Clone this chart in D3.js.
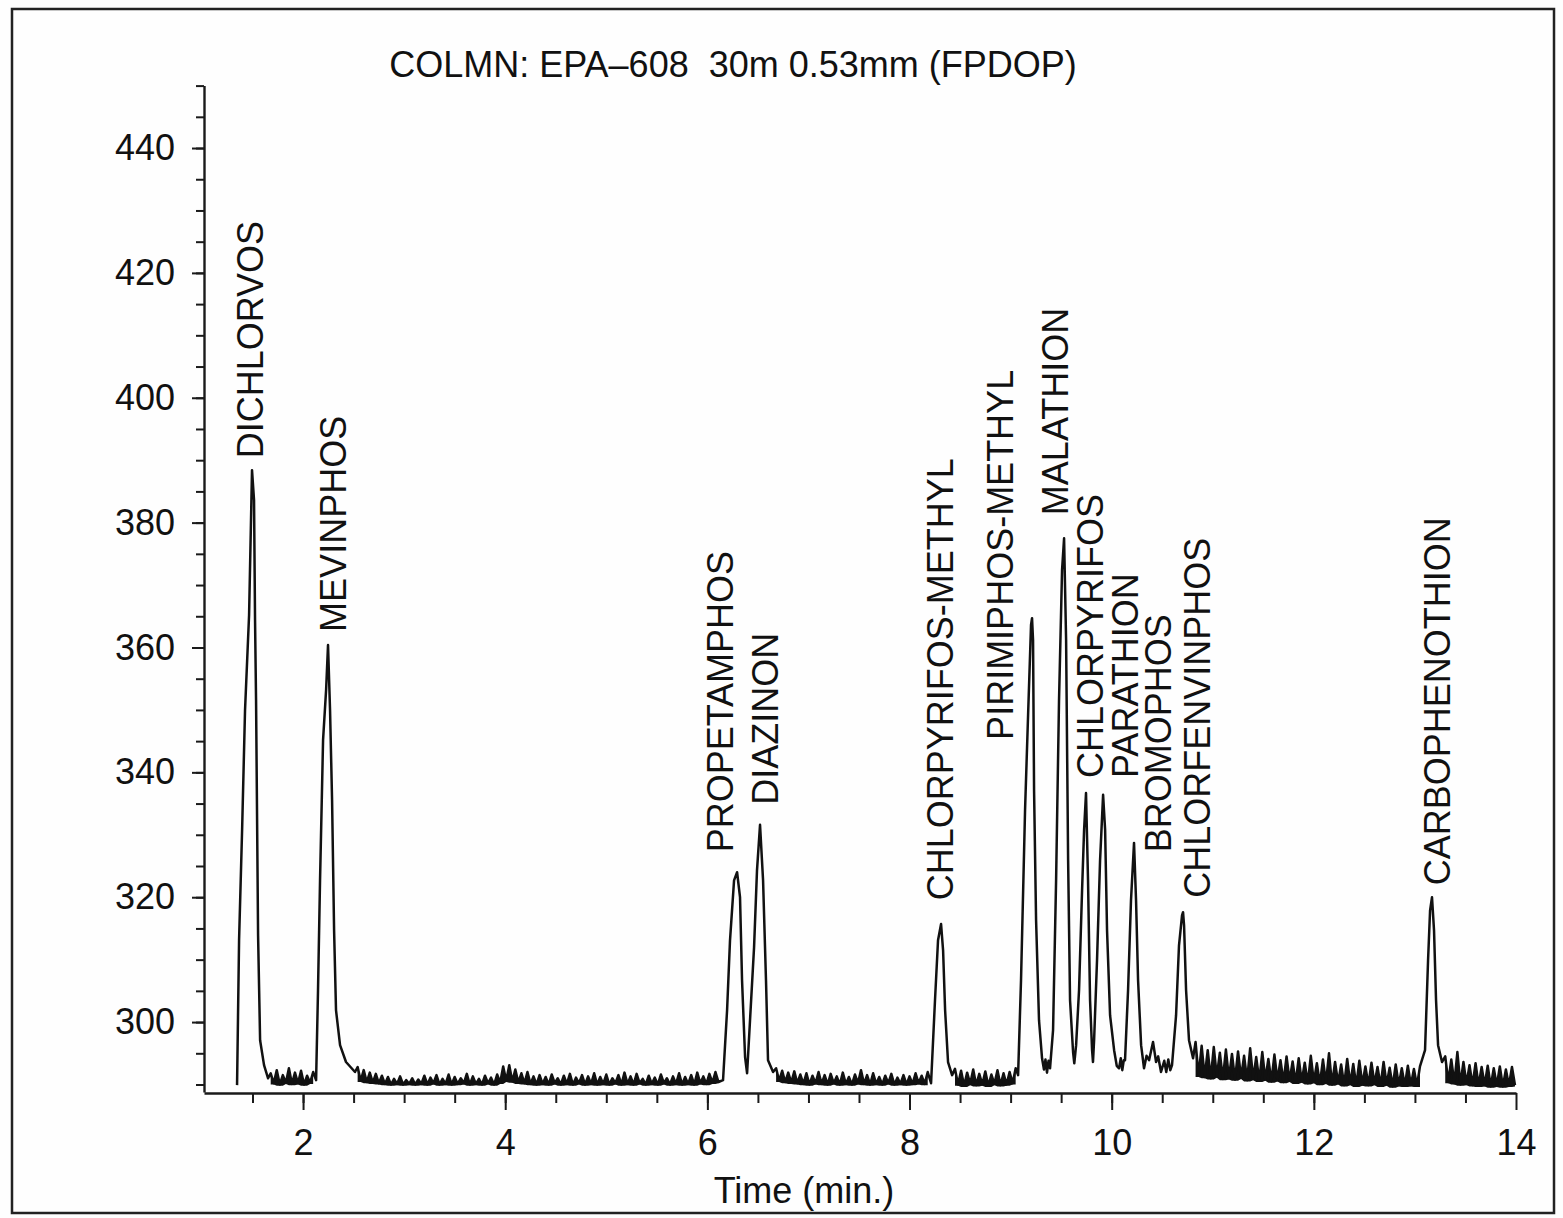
<!DOCTYPE html>
<html>
<head>
<meta charset="utf-8">
<script src="https://cdn.jsdelivr.net/npm/d3@7"></script>
<style>
  body { margin: 0; background: #fff; }
  svg { display: block; font-family: "Liberation Sans", Arial, Helvetica, sans-serif; }
</style>
</head>
<body>
<div id="chart"></div>
<script>
// ---- data ----
var titleText = "COLMN: EPA\u2013608  30m 0.53mm (FPDOP)";
var xTitle = "Time (min.)";

var xMajorTicks = [2, 4, 6, 8, 10, 12, 14];
var yMajorTicks = [300, 320, 340, 360, 380, 400, 420, 440];

// peak names and where their labels sit (time, signal at the foot of the text)
var compounds = ["DICHLORVOS", "MEVINPHOS", "PROPETAMPHOS", "DIAZINON", "CHLORPYRIFOS-METHYL",
  "PIRIMIPHOS-METHYL", "MALATHION", "CHLORPYRIFOS", "PARATHION", "BROMOPHOS",
  "CHLORFENVINPHOS", "CARBOPHENOTHION"];
var labelTime = [1.476, 2.297, 6.125, 6.571, 8.302, 8.896, 9.44, 9.786, 10.132, 10.459, 10.845, 13.219];
var labelLevel = [390.3, 362.5, 327.2, 334.8, 319.5, 345.2, 381.2, 339.1, 339.1, 327.2, 319.9, 321.9];

// peak outlines [time, signal]
var peakDichlorvos = [[1.347, 289.9], [1.367, 313.1], [1.397, 330.8], [1.426, 350.0], [1.466, 365.2],
  [1.495, 388.4], [1.515, 383.6], [1.525, 364.4], [1.535, 351.6], [1.555, 313.9], [1.575, 297.1],
  [1.614, 293.1], [1.654, 291.0]];
var peakMevinphos = [[2.129, 290.7], [2.148, 305.1], [2.168, 322.7], [2.198, 345.2], [2.228, 353.2],
  [2.247, 360.4], [2.267, 350.0], [2.287, 335.6], [2.307, 314.7], [2.326, 301.9], [2.366, 296.3],
  [2.425, 293.6], [2.514, 292.0]];
var peakPropDiaz = [[6.155, 290.7], [6.195, 301.9], [6.224, 313.1], [6.264, 322.7], [6.294, 324.0],
  [6.323, 320.0], [6.343, 306.7], [6.373, 294.4], [6.393, 291.8], [6.422, 300.3], [6.462, 312.0],
  [6.491, 324.3], [6.521, 331.6], [6.551, 322.7], [6.58, 306.7], [6.6, 293.9], [6.65, 292.0]];
var peakChlMethyl = [[8.213, 290.2], [8.252, 303.5], [8.282, 313.1], [8.312, 315.7], [8.332, 311.5],
  [8.352, 301.9], [8.381, 293.6], [8.421, 291.5]];
var peakCluster = [[9.074, 291.5], [9.103, 306.7], [9.143, 334.0], [9.173, 349.2], [9.202, 363.6],
  [9.212, 364.7], [9.222, 361.2], [9.232, 337.2], [9.252, 316.3], [9.281, 300.3], [9.311, 294.2],
  [9.33, 292.4], [9.345, 294.0], [9.36, 291.9], [9.375, 293.8],
  [9.39, 292.6], [9.42, 298.7], [9.45, 322.7], [9.479, 351.6], [9.509, 372.4], [9.529, 377.5],
  [9.549, 361.2], [9.569, 325.9], [9.588, 303.5], [9.618, 295.2], [9.63, 293.4], [9.64, 295.0],
  [9.648, 296.3], [9.677, 305.1], [9.707, 321.1], [9.727, 330.8], [9.746, 336.7], [9.766, 322.7],
  [9.786, 303.5], [9.806, 295.5], [9.815, 293.6],
  [9.826, 297.1], [9.855, 309.9], [9.885, 325.9], [9.915, 336.4], [9.935, 330.8], [9.954, 314.7],
  [9.984, 301.1], [10.024, 295.5], [10.05, 293.0], [10.073, 292.6], [10.09, 294.2], [10.105, 292.3],
  [10.12, 293.9],
  [10.132, 293.9], [10.162, 305.1], [10.191, 319.5], [10.221, 328.7], [10.241, 319.5], [10.261, 306.7],
  [10.291, 296.3], [10.32, 292.6], [10.345, 294.6], [10.37, 293.9], [10.409, 296.8], [10.439, 293.6],
  [10.46, 294.5], [10.488, 292.0], [10.52, 293.8], [10.54, 292.0], [10.56, 294.0], [10.58, 292.3],
  [10.597, 293.1], [10.637, 301.1], [10.666, 312.3], [10.696, 317.1], [10.706, 317.6], [10.716, 315.5],
  [10.736, 305.1], [10.765, 297.1], [10.805, 294.2]];
var peakCarbophenothion = [[13.1, 295.5], [13.13, 309.9], [13.15, 317.9], [13.169, 320.0],
  [13.189, 314.7], [13.209, 303.5], [13.229, 296.3], [13.268, 293.6]];

// baseline noise, sampled every 0.03 min
var sampleStep = 0.03;
var baseA = { t0: 1.68, values: [291.8, 290.2, 292.3, 290.0, 291.5, 290.3, 292.6, 290.1, 291.9, 290.2,
  292.2, 290.0, 291.4, 290.3, 292.0] };
var baseB = { t0: 2.54, values: [
  292.8, 290.6, 292.3, 290.4, 291.9, 290.3, 291.7, 290.2, 291.4, 290.1,
  291.2, 290.0, 290.9, 290.1, 291.3, 290.0, 290.7, 290.1, 291.0, 290.0,
  290.8, 290.1, 291.4, 290.0, 291.1, 290.2, 291.5, 290.0, 290.9, 290.1,
  291.6, 290.0, 291.2, 290.1, 291.0, 290.2, 291.7, 290.0, 291.3, 290.1,
  290.9, 290.0, 291.4, 290.2, 291.1, 290.0, 291.6, 290.3, 292.9, 290.6,
  293.1, 290.5, 292.4, 290.3, 291.8, 290.2, 292.0, 290.1, 291.3, 290.0,
  291.5, 290.1, 291.2, 290.0, 291.6, 290.2, 291.0, 290.0, 291.4, 290.1,
  291.7, 290.0, 291.1, 290.2, 291.5, 290.0, 291.3, 290.1, 291.8, 290.0,
  291.2, 290.1, 291.6, 290.0, 291.0, 290.2, 291.5, 290.0, 291.9, 290.1,
  291.3, 290.0, 291.7, 290.2, 290.9, 290.0, 291.4, 290.1, 291.1, 290.0,
  291.6, 290.2, 291.0, 290.0, 291.3, 290.1, 291.8, 290.0, 291.2, 290.1,
  291.5, 290.0, 291.9, 290.2, 291.3, 290.1, 291.7, 290.3, 292.0, 290.4] };
var baseC = { t0: 6.68, values: [
  292.6, 290.6, 292.2, 290.4, 291.9, 290.3, 292.1, 290.2, 291.6, 290.1,
  291.8, 290.0, 291.4, 290.2, 292.0, 290.1, 291.5, 290.0, 291.7, 290.2,
  291.3, 290.0, 291.9, 290.1, 291.2, 290.0, 291.6, 290.2, 292.3, 290.1,
  291.5, 290.0, 291.8, 290.1, 291.2, 290.0, 291.4, 290.2, 291.7, 290.0,
  291.1, 290.1, 291.5, 290.0, 291.3, 290.1, 291.8, 290.2, 291.4, 290.1, 292.0] };
var baseD = { t0: 8.45, values: [
  292.5, 290.0, 292.2, 289.8, 291.9, 290.1, 292.4, 289.9, 291.7, 290.0,
  292.1, 289.8, 291.6, 290.1, 292.3, 289.9, 291.8, 290.0, 292.0, 290.2, 292.6] };
var baseE = { t0: 10.83, values: [
  296.8, 291.4, 296.2, 291.2, 295.5, 291.0, 296.0, 291.3, 295.1, 290.9,
  295.6, 291.0, 294.9, 290.8, 295.3, 291.1, 294.6, 290.7, 295.8, 290.9,
  294.4, 290.6, 295.2, 290.8, 294.1, 290.5, 294.8, 290.7, 293.9, 290.4,
  294.5, 290.6, 293.7, 290.3, 294.2, 290.5, 293.5, 290.2, 294.6, 290.4,
  293.4, 290.1, 294.0, 290.3, 295.0, 290.0, 293.6, 290.2, 293.2, 289.9,
  294.1, 290.1, 293.3, 289.8, 293.8, 290.0, 292.9, 289.9, 293.5, 290.1,
  292.8, 289.8, 293.6, 290.0, 292.7, 289.7, 293.2, 289.9, 292.6, 289.8,
  293.0, 289.9, 292.5, 289.8, 292.9] };
var baseF = { t0: 13.3, values: [
  294.5, 290.4, 294.0, 290.2, 295.2, 290.0, 293.6, 290.1, 293.1, 289.9,
  293.4, 289.8, 292.8, 289.9, 293.0, 289.7, 292.6, 289.8, 292.9, 289.7,
  292.4, 289.8, 292.8, 289.9] };

// ---- chart ----
var width = 1563,
  height = 1218;
var margin = { top: 85.6, right: 47, bottom: 126, left: 204 };

var svg = d3.select("#chart").append("svg")
  .attr("width", width)
  .attr("height", height);

svg.append("rect")
  .attr("width", width).attr("height", height)
  .attr("fill", "#fefefe");

// border round the figure
svg.append("rect")
  .attr("x", 12).attr("y", 9)
  .attr("width", 1542).attr("height", 1204)
  .attr("fill", "none")
  .attr("stroke", "#222")
  .attr("stroke-width", 2.5);

var xScale = d3.scaleLinear()
  .domain([1.02, 14])
  .range([margin.left, width - margin.right]);

var yScale = d3.scaleLinear()
  .domain([288.8, 450])
  .range([height - margin.bottom, margin.top]);

function sampled(seg) {
  return seg.values.map(function (v, i) { return [seg.t0 + i * sampleStep, v]; });
}

var baseSegments = [baseA, baseB, baseC, baseD, baseE, baseF].map(sampled);

var trace = [].concat(
  peakDichlorvos, baseSegments[0], peakMevinphos, baseSegments[1], peakPropDiaz,
  baseSegments[2], peakChlMethyl, baseSegments[3], peakCluster, baseSegments[4],
  peakCarbophenothion, baseSegments[5]);

var line = d3.line()
  .x(function (d) { return xScale(d[0]); })
  .y(function (d) { return yScale(d[1]); });

// Add the y-axis: minor ticks every 5, labelled every 20.
svg.append("g")
  .attr("transform", "translate(" + margin.left + ",0)")
  .call(d3.axisLeft(yScale).tickValues(d3.range(290, 451, 5)).tickSize(8).tickFormat("").tickSizeOuter(0));
svg.append("g")
  .attr("transform", "translate(" + margin.left + ",0)")
  .call(d3.axisLeft(yScale).tickValues(yMajorTicks).tickSize(12).tickPadding(17).tickSizeOuter(0))
  .call(function (g) { g.select(".domain").remove(); });

// Add the x-axis: minor ticks every 0.5, labelled every 2.
var xAxisY = height - margin.bottom + 1;
svg.append("g")
  .attr("transform", "translate(0," + xAxisY + ")")
  .call(d3.axisBottom(xScale).tickValues(d3.range(1.5, 14, 0.5)).tickSize(10).tickFormat("").tickSizeOuter(0));
svg.append("g")
  .attr("transform", "translate(0," + xAxisY + ")")
  .call(d3.axisBottom(xScale).tickValues(xMajorTicks).tickSize(17).tickPadding(19).tickSizeOuter(0))
  .call(function (g) { g.select(".domain").remove(); });

svg.selectAll(".domain").attr("stroke", "#1a1a1a").attr("stroke-width", 2.4);
svg.selectAll(".tick line").attr("stroke", "#1a1a1a").attr("stroke-width", 2);
svg.selectAll(".tick text")
  .attr("fill", "#111")
  .style("font-size", "36px")
  .style("font-family", "'Liberation Sans', Arial, Helvetica, sans-serif");

// dense baseline noise: fill between the local low envelope and the trace
function noisePath(pts) {
  return d3.area()
    .x(function (d) { return xScale(d[0]); })
    .y1(function (d) { return yScale(d[1]); })
    .y0(function (d, i) {
      var lo = d3.min([pts[i - 1], d, pts[i + 1]].filter(Boolean), function (p) { return p[1]; });
      return yScale(lo - 0.2);
    })(pts);
}

svg.append("g")
  .selectAll("path")
  .data(baseSegments)
  .join("path")
  .attr("fill", "#111")
  .attr("d", noisePath);

// the chromatogram trace
svg.append("path")
  .datum(trace)
  .attr("fill", "none")
  .attr("stroke", "#111")
  .attr("stroke-width", 2.5)
  .attr("stroke-linejoin", "round")
  .attr("d", line);

// compound labels, written upwards
svg.append("g")
  .selectAll("text")
  .data(compounds)
  .join("text")
  .attr("transform", function (d, i) {
    return "translate(" + xScale(labelTime[i]) + "," + yScale(labelLevel[i]) + ") rotate(-90)";
  })
  .attr("dy", "0.35em")
  .attr("fill", "#111")
  .style("font-size", "36px")
  .text(function (d) { return d; });

// title and axis label
svg.append("text")
  .attr("x", 733).attr("y", 77)
  .attr("text-anchor", "middle")
  .attr("fill", "#111")
  .style("font-size", "36px")
  .style("white-space", "pre")
  .text(titleText);

svg.append("text")
  .attr("x", 804).attr("y", 1203)
  .attr("text-anchor", "middle")
  .attr("fill", "#111")
  .style("font-size", "36px")
  .text(xTitle);
</script>
</body>
</html>
